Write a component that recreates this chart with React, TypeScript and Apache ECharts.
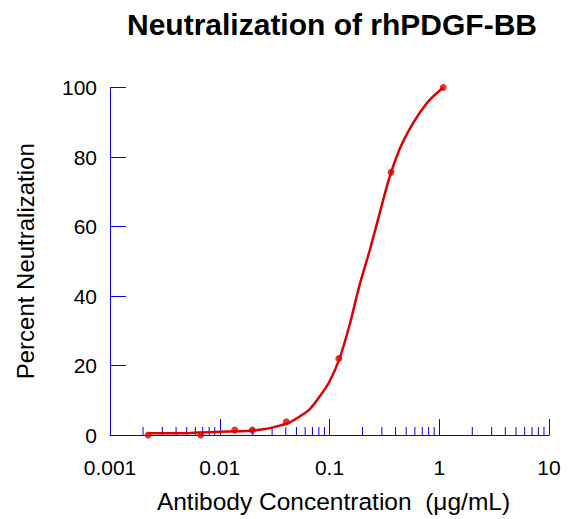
import React, { useEffect, useRef } from "react";
import * as echarts from "echarts";

const TITLE = "Neutralization of rhPDGF-BB";
const X_NAME = "Antibody Concentration  (μg/mL)";
const Y_NAME = "Percent Neutralization";

const X_TICK_LABELS = ["0.001", "0.01", "0.1", "1", "10"];
const Y_TICKS = [0, 20, 40, 60, 80, 100];

// measured data points (concentration, % neutralization)
const pointX = [0.00223, 0.0067, 0.0137, 0.0198, 0.0404, 0.1217, 0.364, 1.087];
const pointY = [0, 0, 1.4, 1.4, 3.8, 22, 75.6, 100];

// fitted curve
const curveX = [0.00221, 0.00351, 0.00534, 0.00811, 0.01233, 0.01874, 0.02566, 0.0351, 0.0433, 0.0534, 0.0658, 0.0811, 0.1, 0.1233, 0.152, 0.1874, 0.231, 0.2848, 0.351, 0.433, 0.534, 0.658, 0.811, 1.087];
const curveY = [0.5, 0.5, 0.6, 0.8, 1.0, 1.2, 1.7, 2.7, 3.6, 5.3, 7.4, 11, 15.4, 22, 31.5, 43, 52.8, 63.5, 74, 82.1, 87.9, 92.5, 96.3, 100];

// minor log tick positions
const DECADES = [0.001, 0.01, 0.1, 1];
const MULTS = [2, 3, 4, 5, 6, 7, 8, 9];
const minorTicks: number[] = [];
DECADES.forEach((d) => MULTS.forEach((m) => minorTicks.push(+(d * m).toPrecision(3))));

const AXIS_BLUE = "#0000ff";
const RED = "#e00000";
const FONT = "Liberation Sans, Arial, sans-serif";

export default function App() {
  const ref = useRef<HTMLDivElement>(null);
  useEffect(() => {
    if (!ref.current) return;
    const chart = echarts.init(ref.current, null, { renderer: "svg" });
    chart.setOption({
      animation: false,
      backgroundColor: "#ffffff",
      title: {
        text: TITLE,
        left: 327,
        textAlign: "center",
        top: 4,
        textStyle: { fontFamily: FONT, fontSize: 30, fontWeight: "bold", color: "#000" },
      },
      grid: { left: 110, right: 22, top: 87.5, bottom: 82.3, containLabel: false },
      xAxis: {
        type: "log",
        logBase: 10,
        min: 0.001,
        max: 10,
        name: X_NAME,
        nameLocation: "middle",
        nameGap: 54,
        nameTextStyle: { fontFamily: FONT, fontSize: 24.5, color: "#000", padding: [0, 0, 0, 8] },
        axisLine: { show: true, lineStyle: { color: AXIS_BLUE, width: 1 } },
        axisTick: { show: true, inside: true, length: 16, lineStyle: { color: AXIS_BLUE, width: 1 } },
        axisLabel: {
          margin: 22,
          fontFamily: FONT,
          fontSize: 21,
          color: "#000",
          formatter: (v: number) => {
            const i = Math.round(Math.log10(v)) + 3;
            return X_TICK_LABELS[i] ?? "";
          },
        },
        splitLine: { show: false },
        minorTick: { show: false },
      },
      yAxis: {
        type: "value",
        min: 0,
        max: 100,
        interval: 20,
        name: Y_NAME,
        nameLocation: "middle",
        nameGap: 73,
        nameTextStyle: { fontFamily: FONT, fontSize: 24, color: "#000" },
        axisLine: { show: true, lineStyle: { color: AXIS_BLUE, width: 1 } },
        axisTick: { show: true, inside: true, length: 16, lineStyle: { color: AXIS_BLUE, width: 1 } },
        axisLabel: {
          margin: 13,
          fontFamily: FONT,
          fontSize: 21,
          color: "#000",
          formatter: (v: number) => (Y_TICKS.includes(v) ? String(v) : ""),
        },
        splitLine: { show: false },
      },
      series: [
        {
          type: "custom",
          silent: true,
          z: 1,
          data: minorTicks.map((v) => [v, 0]),
          renderItem: (params: any, api: any) => {
            const p = api.coord([api.value(0), 0]);
            return {
              type: "line",
              shape: { x1: p[0], y1: p[1], x2: p[0], y2: p[1] - 8 },
              style: { stroke: AXIS_BLUE, lineWidth: 1 },
            };
          },
        },
        {
          type: "line",
          data: curveX.map((x, i) => [x, curveY[i]]),
          smooth: 0.3,
          showSymbol: false,
          symbol: "none",
          lineStyle: { color: RED, width: 2.5 },
          z: 3,
        },
        {
          type: "scatter",
          data: pointX.map((x, i) => [x, pointY[i]]),
          symbol: "circle",
          symbolSize: 7,
          itemStyle: { color: RED },
          z: 4,
        },
      ],
    });
    return () => chart.dispose();
  }, []);
  return (
    <div
      ref={ref}
      style={{ position: "fixed", left: 0, top: 0, width: 571, height: 519 }}
    />
  );
}
